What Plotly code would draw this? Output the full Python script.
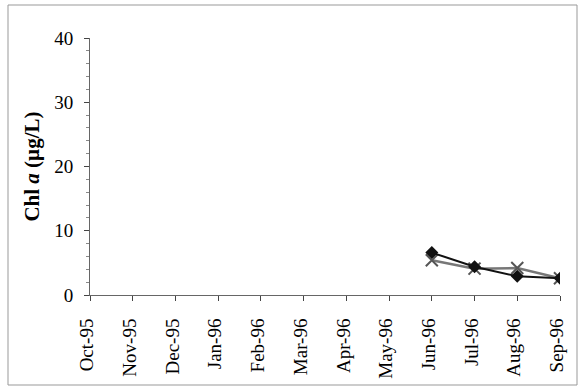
import plotly.graph_objects as go

months = ["Oct-95", "Nov-95", "Dec-95", "Jan-96", "Feb-96", "Mar-96",
          "Apr-96", "May-96", "Jun-96", "Jul-96", "Aug-96", "Sep-96"]
sample_months = ["Jun-96", "Jul-96", "Aug-96", "Sep-96"]
series_diamond = [6.6, 4.4, 2.9, 2.6]
series_cross = [5.4, 4.1, 4.2, 2.6]
y_ticks = [0, 10, 20, 30, 40]

idx = {m: i for i, m in enumerate(months)}
xs = [idx[m] for m in sample_months]

fig = go.Figure()
fig.add_trace(go.Scatter(
    x=xs, y=series_cross, mode="lines+markers",
    line=dict(color="#777777", width=2.5),
    marker=dict(symbol="x-thin-open", size=12, color="#555555",
                line=dict(color="#555555", width=2)),
    showlegend=False))
fig.add_trace(go.Scatter(
    x=xs, y=series_diamond, mode="lines+markers",
    line=dict(color="#111111", width=2),
    marker=dict(symbol="diamond", size=10, color="#111111"),
    showlegend=False))

W, H = 579, 391
L, R, T, B = 90, 19, 38, 96
pw, ph = W - L - R, H - T - B


def px(x):
    return (x - L) / pw


def py(y):
    return (H - B - y) / ph


fig.add_shape(type="rect", xref="paper", yref="paper",
              x0=px(8), x1=px(577), y0=py(385), y1=py(5),
              line=dict(color="#999999", width=1))

font = "Liberation Serif, Times New Roman, serif"
fig.update_layout(
    width=W, height=H,
    margin=dict(l=L, r=R, t=T, b=B),
    paper_bgcolor="white", plot_bgcolor="white",
    font=dict(family=font, color="black"),
    xaxis=dict(
        range=[0, 11], tickmode="array", tickvals=list(range(len(months))),
        ticktext=months, tickangle=-90, ticks="outside", ticklen=5,
        tickcolor="#444444", showgrid=False, zeroline=False,
        showline=True, linecolor="#666666", linewidth=1,
        ticklabelstandoff=10, ticklabelshift=-3,
        tickfont=dict(size=19, family=font), fixedrange=True),
    yaxis=dict(
        range=[0, 40], tickvals=y_ticks, ticks="outside", ticklen=5,
        tickcolor="#444444", showgrid=False, zeroline=False,
        showline=True, linecolor="#666666", linewidth=1,
        ticklabelstandoff=7,
        tickfont=dict(size=19, family=font),
        minor=dict(ticks="outside", ticklen=3, dtick=2, tickcolor="#888888"),
        title=dict(text="<b>Chl <i>a</i> (µg/L)</b>",
                   font=dict(size=21, family=font), standoff=8)),
)

fig.write_html("out.html", config={"displayModeBar": False},
               post_script="document.body.style.margin='0';")
